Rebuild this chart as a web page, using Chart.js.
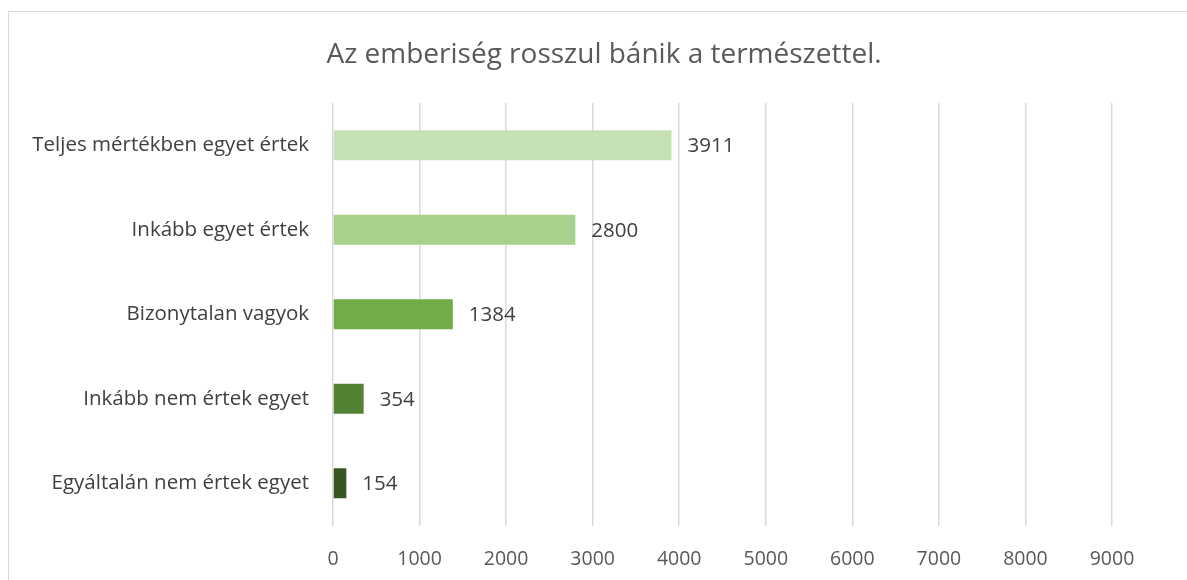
<!DOCTYPE html>
<html>
<head>
<meta charset="utf-8">
<script src="https://cdn.jsdelivr.net/npm/chart.js@4"></script>
<style>
    html, body { margin: 0; padding: 0; background: #fff; overflow: hidden; }
    #frame {
        position: absolute; left: 8px; top: 11px;
        width: 1192px; height: 600px;
        border: 1.5px solid #d9d9d9;
        box-sizing: border-box;
    }
    #chart { display: block; }
</style>
</head>
<body>
<div id="frame"><canvas id="chart" width="1190" height="598"></canvas></div>
<script>
const categories = [
    "Teljes mértékben egyet értek",
    "Inkább egyet értek",
    "Bizonytalan vagyok",
    "Inkább nem értek egyet",
    "Egyáltalán nem értek egyet",
]
const counts = [3911, 2800, 1384, 354, 154]
const barColors = ["#C5E0B4", "#A9D18E", "#70AD47", "#548235", "#375623"]
const titleText = "Az emberiség rosszul bánik a természettel."

const fontFamily = "'Open Sans', 'Noto Sans', sans-serif"

// value labels to the right of each bar
const valueLabels = {
    id: 'valueLabels',
    afterDatasetsDraw(chart) {
        const ctx = chart.ctx
        const meta = chart.getDatasetMeta(0)
        ctx.save()
        ctx.font = "20.5px " + fontFamily
        ctx.fillStyle = "#404040"
        ctx.textAlign = "left"
        ctx.textBaseline = "middle"
        meta.data.forEach((bar, i) => {
            ctx.fillText(String(counts[i]), bar.x + 16, bar.y + 1)
        })
        ctx.restore()
    }
}

// title centred on the whole chart frame
const frameTitle = {
    id: 'frameTitle',
    afterDraw(chart) {
        const ctx = chart.ctx
        ctx.save()
        ctx.font = "28px " + fontFamily
        ctx.fillStyle = "#595959"
        ctx.textAlign = "center"
        ctx.textBaseline = "alphabetic"
        ctx.fillText(titleText, chart.width / 2, 51)
        ctx.restore()
    }
}

const ctx = document.getElementById('chart')
new Chart(ctx, {
    type: 'bar',
    data: {
        labels: categories,
        datasets: [{
            data: counts,
            backgroundColor: barColors,
            categoryPercentage: 0.355,
            barPercentage: 1,
        }]
    },
    plugins: [valueLabels, frameTitle],
    options: {
        indexAxis: 'y',
        responsive: false,
        animation: false,
        layout: { padding: { left: 0, right: 87, top: 91, bottom: 24.5 } },
        plugins: {
            legend: { display: false },
            tooltip: { enabled: false },
            title: { display: false },
        },
        scales: {
            x: {
                min: 0,
                max: 9000,
                afterFit(scale) { scale.height = 60 },
                ticks: {
                    stepSize: 1000,
                    color: "#595959",
                    font: { family: fontFamily, size: 19.5 },
                    padding: 22,
                    callback: (v) => String(v),
                },
                grid: { color: "#d9d9d9", lineWidth: 1.5, drawTicks: false },
                border: { display: false },
            },
            y: {
                afterFit(scale) { scale.width = 324 },
                ticks: {
                    color: "#404040",
                    font: { family: fontFamily, size: 20.5 },
                    padding: 16,
                },
                grid: { display: false },
                border: { display: false },
            }
        }
    }
})
</script>
</body>
</html>
